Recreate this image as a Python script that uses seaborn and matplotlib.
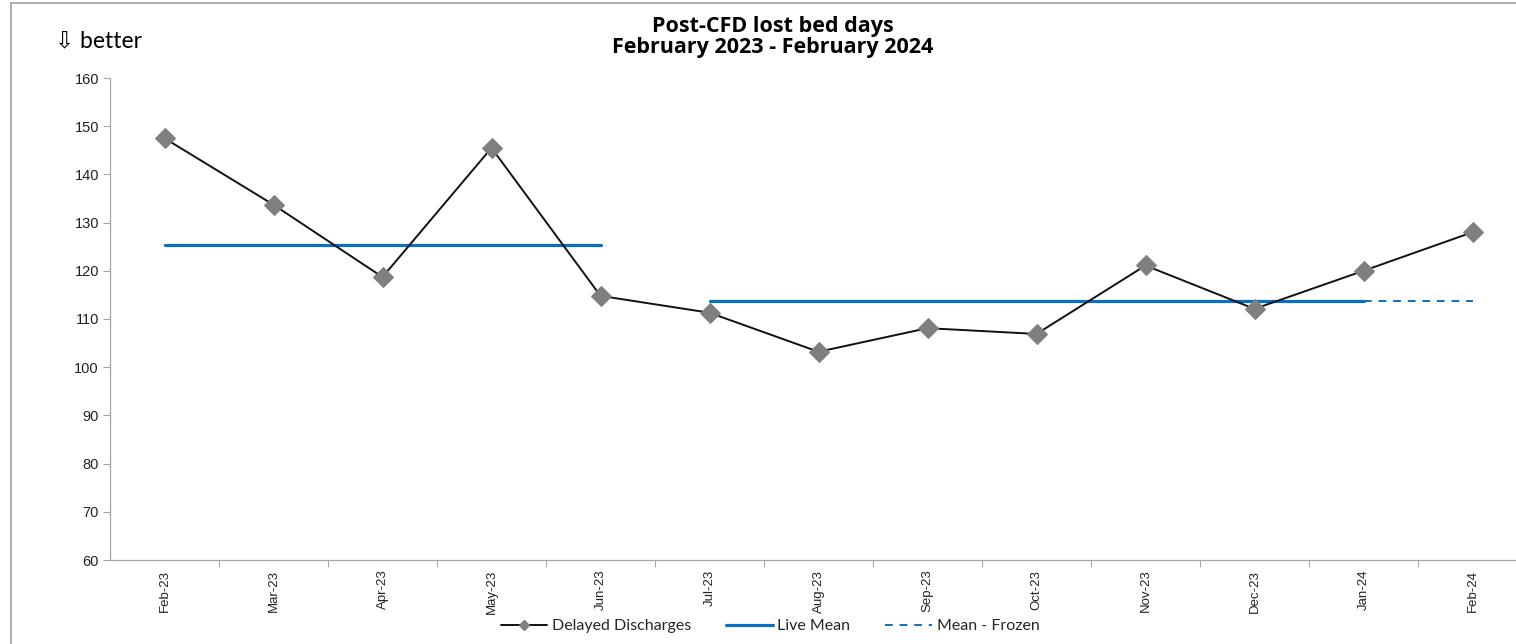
import numpy as np
import pandas as pd
import matplotlib
matplotlib.use("Agg")
import matplotlib.pyplot as plt
from matplotlib.lines import Line2D
from matplotlib.ticker import FixedLocator
import seaborn as sns

# Monthly post-CFD lost bed days
months = ["Feb-23", "Mar-23", "Apr-23", "May-23", "Jun-23", "Jul-23", "Aug-23",
          "Sep-23", "Oct-23", "Nov-23", "Dec-23", "Jan-24", "Feb-24"]
delayed = [147.5, 133.7, 118.7, 145.5, 114.8, 111.3, 103.2,
           108.1, 106.9, 121.1, 112.1, 120.0, 128.0]

# Process means: live segments and the frozen extension
live_mean_1_months = ["Feb-23", "Jun-23"]
live_mean_1 = [125.3, 125.3]
live_mean_2_months = ["Jul-23", "Jan-24"]
live_mean_2 = [113.8, 113.8]
frozen_months = ["Jan-24", "Feb-24"]
frozen_mean = [113.8, 113.8]

y_ticks = [60, 70, 80, 90, 100, 110, 120, 130, 140, 150, 160]

sns.set_theme(style="white")
plt.rcParams["font.family"] = ["Liberation Sans", "DejaVu Sans"]

W, H = 1516, 644
fig = plt.figure(figsize=(W / 100, H / 100), dpi=100)
ax = fig.add_axes([110 / W, 1 - 560 / H, (1527 - 110) / W, (560 - 78) / H])

df = pd.DataFrame({"month": months, "value": delayed})
blue = "#0A70C2"

sns.lineplot(data=df, x="month", y="value", sort=False, ax=ax, color="#111111",
             linewidth=1.4, marker="D", markersize=10, markerfacecolor="#7F7F7F",
             markeredgecolor="#7F7F7F", zorder=3)
ax.plot(live_mean_1_months, live_mean_1, color=blue, linewidth=2.3, zorder=2)
ax.plot(live_mean_2_months, live_mean_2, color=blue, linewidth=2.3, zorder=2)
ax.plot(frozen_months, frozen_mean, color=blue, linewidth=1.4,
        linestyle=(0, (4, 3.5)), zorder=2)

n = len(months)
ax.set_xlim(-0.5, n - 0.5)
ax.set_ylim(60, 160)
ax.set_yticks(y_ticks)
ax.set_xlabel("")
ax.set_ylabel("")

# Category labels at centres, tick marks on the boundaries
ax.set_xticks(range(n))
ax.set_xticklabels(months, rotation=90, fontsize=9.5, color="#222222")
ax.xaxis.set_minor_locator(FixedLocator(np.arange(0.5, n, 1.0)))
ax.tick_params(axis="x", which="major", length=0, pad=7)
ax.tick_params(axis="x", which="minor", length=5, width=0.8, color="#A6A6A6",
               bottom=True, direction="out")
ax.tick_params(axis="y", length=5, width=0.8, color="#A6A6A6", left=True,
               direction="out", labelsize=10.5, labelcolor="#222222", pad=3)

for side in ["top", "right"]:
    ax.spines[side].set_visible(False)
for side in ["left", "bottom"]:
    ax.spines[side].set_color("#A6A6A6")
    ax.spines[side].set_linewidth(0.9)
ax.grid(False)

fig.text(773 / W, 1 - 37 / H, "Post-CFD lost bed days\nFebruary 2023 - February 2024",
         ha="center", va="center", fontsize=15.5, fontweight="bold", color="black",
         family=["Open Sans", "DejaVu Sans"], linespacing=0.95)
fig.text(55 / W, 1 - 41 / H, "\u21e9 better", ha="left", va="center",
         fontsize=16.5, color="black", family=["Lato", "DejaVu Sans"])

handles = [
    Line2D([0], [0], color="#111111", linewidth=1.4, marker="D", markersize=5,
           markerfacecolor="#7F7F7F", markeredgecolor="#7F7F7F"),
    Line2D([0], [0], color=blue, linewidth=2.3),
    Line2D([0], [0], color=blue, linewidth=1.4, linestyle=(0, (4, 3.5))),
]
fig.legend(handles, ["Delayed Discharges", "Live Mean", "Mean - Frozen"],
           loc="center", bbox_to_anchor=(770 / W, 1 - 626 / H), ncol=3,
           frameon=False, prop={"family": ["Lato", "DejaVu Sans"], "size": 11.5},
           handlelength=2.9, handletextpad=0.3, columnspacing=2.2)

# Outer chart border (left and top edges)
fig.add_artist(Line2D([11 / W, 11 / W], [0, 1 - 3 / H], transform=fig.transFigure,
                      color="#A0A0A0", linewidth=1.2))
fig.add_artist(Line2D([11 / W, 1], [1 - 3 / H, 1 - 3 / H], transform=fig.transFigure,
                      color="#A0A0A0", linewidth=1.2))

fig.savefig("out.png", dpi=100)
